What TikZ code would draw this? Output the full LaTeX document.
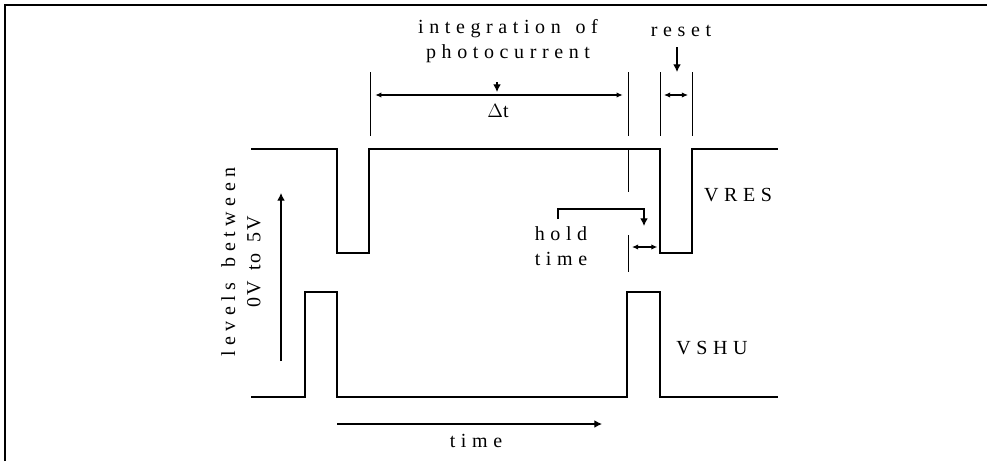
\documentclass[tikz,border=0pt]{standalone}
\usepackage{fontspec}
\usetikzlibrary{arrows.meta}

\newfontfamily\spacedfont{Liberation Serif}[LetterSpace = 28, WordSpace = 1.4]
\newfontfamily\plainfont{Liberation Serif}[LetterSpace = 10, WordSpace = 1.5]

\tikzset{
    wave/.style = {line width = 1.4pt},
    tick line/.style = {line width = 0.6pt},
    caption/.style = {font = \spacedfont\fontsize{15}{19}\selectfont, inner sep = 0pt, align = center},
    dim/.style = {line width = 0.8pt, {Latex[length = 1.6mm, width = 1.4mm]}-{Latex[length = 1.6mm, width = 1.4mm]}},
    pointer/.style = {line width = 0.8pt, -{Latex[length = 2mm, width = 2mm]}},
}

\begin{document}
\begin{tikzpicture}[x = 0.75pt, y = -0.75pt]
    \useasboundingbox (0, 0) rectangle (987, 461);
    \draw [line width = 2pt] (5, 461) -- (5, 5) -- (987, 5);

    \draw [wave]
        (251, 149) -- (337, 149) -- (337, 253) -- (369, 253) -- (369, 149)
        -- (660, 149) -- (660, 253) -- (692, 253) -- (692, 149) -- (778, 149);
    \draw [wave]
        (251, 397) -- (305, 397) -- (305, 292) -- (337, 292) -- (337, 397)
        -- (627, 397) -- (627, 292) -- (660, 292) -- (660, 397) -- (778, 397);

    \foreach \x/\name in {370/t1, 628/t2, 660/t3, 692/t4} {
        \draw [tick line] (\x, 72) coordinate (\name top) -- (\x, 136) coordinate (\name bot);
    }
    \draw [tick line]
        (628, 150) -- (628, 192)
        (628, 235) coordinate (hold left) -- (628, 272);

    \node [caption] (integ) at (508, 41) {integration of\\photocurrent};
    \node [caption, font = \plainfont\fontsize{15}{19}\selectfont] (dt) at (498, 111) {$\Delta$t};
    \node [caption] (reset) at (681, 31) {reset};
    \node [caption] (hold) at (561, 246) {hold\\time};
    \node [caption] (vres) at (738, 195) {VRES};
    \node [caption] (vshu) at (712, 348) {VSHU};
    \node [caption] (time) at (476, 441) {time};
    \node [caption, rotate = 90] (levels) at (241, 262) {levels between\\\plainfont 0V to 5V};

    \coordinate (dt top) at (497, 82);
    \coordinate (dt tip) at (497, 92);
    \coordinate (reset top) at (677, 47);
    \coordinate (reset tip) at (677, 72);
    \coordinate (hold start) at (558, 219);
    \coordinate (hold tip) at (644, 226);
    \coordinate (hold right) at (660, 247);
    \coordinate (lv low) at (281, 361);
    \coordinate (lv high) at (281, 193);
    \coordinate (tm left) at (337, 424);
    \coordinate (tm right) at (602, 424);

    \draw [dim, shorten <= 4pt, shorten >= 4pt] (t1top |- 0, 95) -- (t2top |- 0, 95);
    \draw [dim, shorten <= 3pt, shorten >= 3pt] (t3top |- 0, 95) -- (t4top |- 0, 95);
    \draw [dim, shorten <= 3pt, shorten >= 2pt] (hold left |- hold right) -- (hold right);
    \draw [pointer] (dt top) -- (dt tip);
    \draw [pointer] (reset top) -- (reset tip);
    \draw [pointer] (hold start) |- (hold tip |- 0, 209) -- (hold tip);
    \draw [pointer] (lv low) -- (lv high);
    \draw [pointer] (tm left) -- (tm right);
\end{tikzpicture}
\end{document}
